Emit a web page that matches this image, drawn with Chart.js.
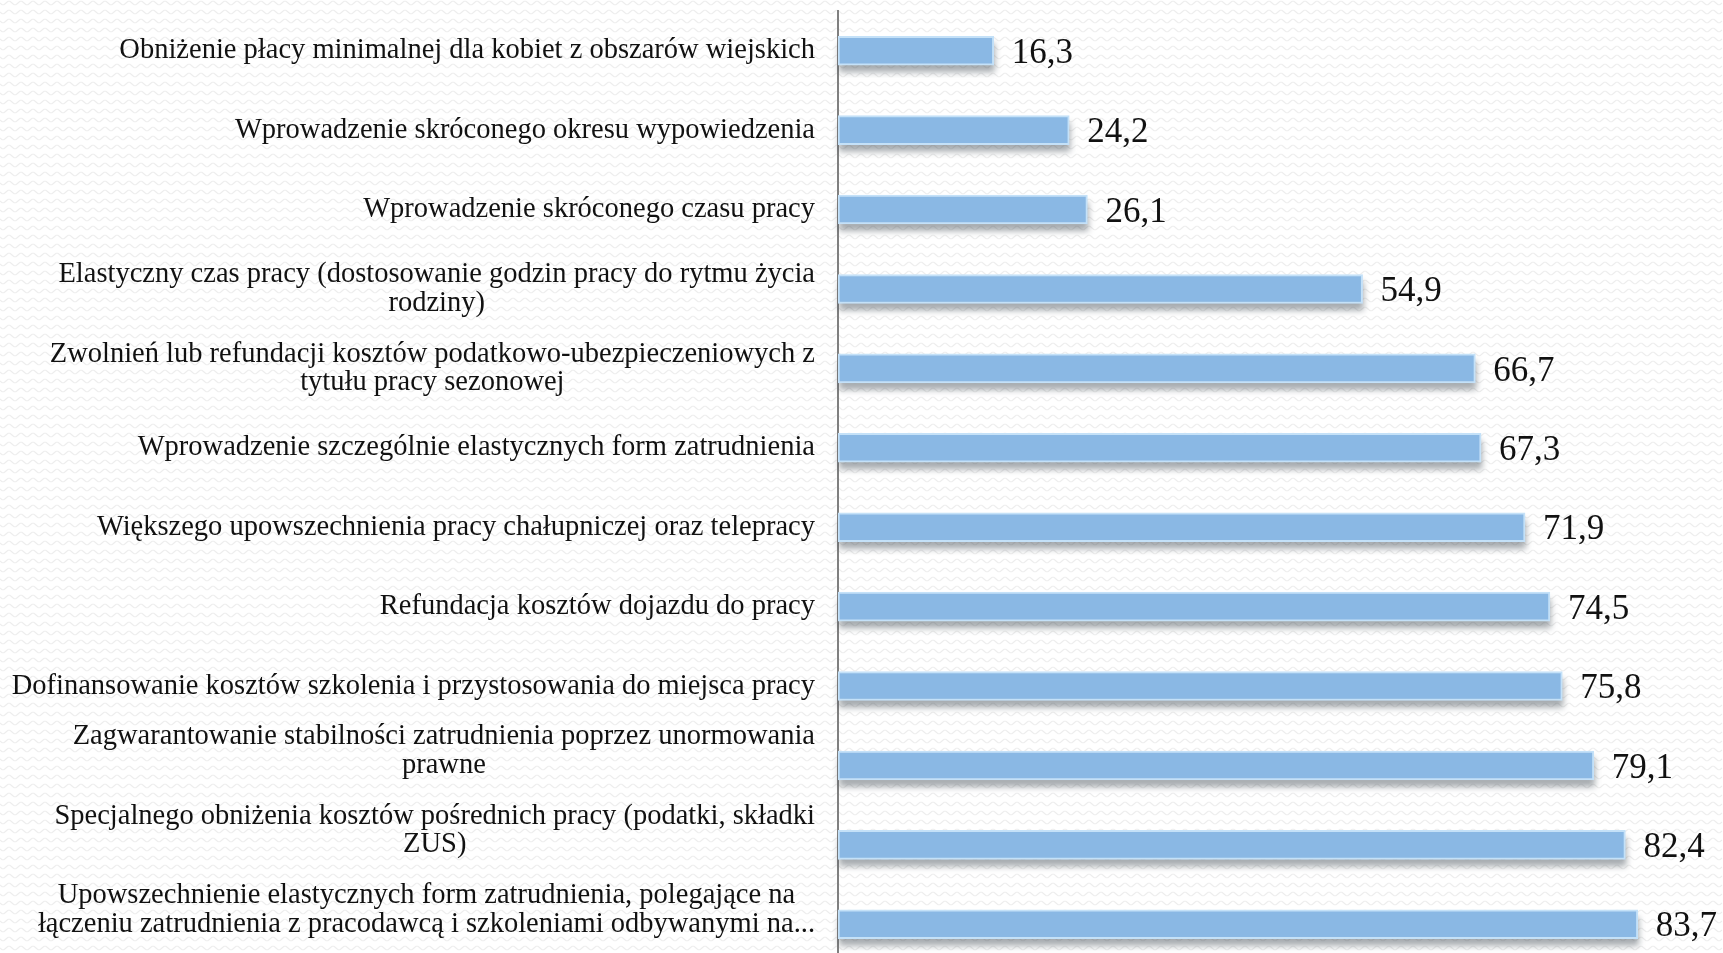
<!DOCTYPE html>
<html>
<head>
<meta charset="utf-8">
<script src="https://cdn.jsdelivr.net/npm/chart.js@4.4.1/dist/chart.umd.min.js"></script>
<style>
html, body { margin: 0; padding: 0; overflow: hidden; background: #fff; }
#wrap { width: 1723px; height: 964px; }
</style>
</head>
<body>
<div id="wrap"><canvas id="myChart"></canvas></div>
<script>
// categories (each one is a list of wrapped lines)
const categories = [
    ['Obniżenie płacy minimalnej dla kobiet z obszarów wiejskich'],
    ['Wprowadzenie skróconego okresu wypowiedzenia'],
    ['Wprowadzenie skróconego czasu pracy'],
    ['Elastyczny czas pracy (dostosowanie godzin pracy do rytmu życia', 'rodziny)'],
    ['Zwolnień lub refundacji kosztów podatkowo-ubezpieczeniowych z', 'tytułu pracy sezonowej'],
    ['Wprowadzenie szczególnie elastycznych form zatrudnienia'],
    ['Większego upowszechnienia pracy chałupniczej oraz telepracy'],
    ['Refundacja kosztów dojazdu do pracy'],
    ['Dofinansowanie kosztów szkolenia i przystosowania do miejsca pracy'],
    ['Zagwarantowanie stabilności zatrudnienia poprzez unormowania', 'prawne', ''],
    ['Specjalnego obniżenia kosztów pośrednich pracy (podatki, składki', 'ZUS)', ''],
    ['Upowszechnienie elastycznych form zatrudnienia, polegające na', 'łączeniu zatrudnienia z pracodawcą i szkoleniami odbywanymi na...', '']
];
const values = [16.3, 24.2, 26.1, 54.9, 66.7, 67.3, 71.9, 74.5, 75.8, 79.1, 82.4, 83.7];
const xMin = 0;
const xMax = 90;

const fmt = v => v.toFixed(1).replace('.', ',');

// faint wavy paper background
const backgroundPlugin = {
    id: 'paper',
    beforeDraw(chart) {
        const ctx = chart.ctx;
        ctx.save();
        ctx.fillStyle = '#ffffff';
        ctx.fillRect(0, 0, chart.width, chart.height);
        ctx.strokeStyle = 'rgba(0,0,0,0.07)';
        ctx.lineWidth = 1.2;
        for (let y = 3; y < chart.height; y += 9) {
            ctx.beginPath();
            for (let x = 0; x <= chart.width; x += 2) {
                const yy = y + 2 * Math.sin(x / 12 * Math.PI * 2);
                if (x === 0) ctx.moveTo(x, yy); else ctx.lineTo(x, yy);
            }
            ctx.stroke();
        }
        ctx.restore();
    }
};

// soft shadow under each bar
const shadowPlugin = {
    id: 'barShadow',
    beforeDatasetsDraw(chart) {
        const ctx = chart.ctx;
        ctx.save();
        ctx.filter = 'blur(3px)';
        ctx.fillStyle = 'rgba(60,70,80,0.45)';
        chart.getDatasetMeta(0).data.forEach(b => {
            ctx.fillRect(b.base + 1, b.y - b.height / 2 + 7, b.x - b.base, b.height);
        });
        ctx.restore();
    }
};

// value labels right of bars
const valuePlugin = {
    id: 'values',
    afterDatasetsDraw(chart) {
        const ctx = chart.ctx;
        ctx.save();
        ctx.font = '35px "Liberation Serif"';
        ctx.fillStyle = '#111';
        ctx.textAlign = 'left';
        ctx.textBaseline = 'middle';
        chart.getDatasetMeta(0).data.forEach((b, i) => {
            ctx.fillText(fmt(values[i]), b.x + 18, b.y + 3);
        });
        ctx.restore();
    }
};

// category labels: block right-aligned, lines centred within block
const labelPlugin = {
    id: 'catLabels',
    afterDraw(chart) {
        const ctx = chart.ctx;
        const yScale = chart.scales.y;
        const right = yScale.right - 23;
        const lineH = 28.6;
        ctx.save();
        ctx.font = '28.5px "Liberation Serif"';
        ctx.fillStyle = '#111';
        ctx.textAlign = 'center';
        ctx.textBaseline = 'middle';
        categories.forEach((lines, i) => {
            const w = Math.max(...lines.map(l => ctx.measureText(l).width));
            const cx = right - w / 2;
            const cy = yScale.getPixelForValue(i);
            const top = cy - (lines.length - 1) * lineH / 2;
            lines.forEach((l, k) => ctx.fillText(l, cx, top + k * lineH));
        });
        ctx.restore();
    }
};

const ctx = document.getElementById('myChart');
const myChart = new Chart(ctx, {
    type: 'bar',
    data: {
        labels: categories,
        datasets: [{
            data: values,
            backgroundColor: '#8ab8e4',
            borderColor: '#c4e1f8',
            borderWidth: 2,
            borderSkipped: false,
            barThickness: 29
        }]
    },
    options: {
        indexAxis: 'y',
        responsive: true,
        maintainAspectRatio: false,
        animation: false,
        layout: { padding: { top: 11, right: 25, bottom: 0, left: 0 } },
        plugins: {
            legend: { display: false },
            tooltip: { enabled: false }
        },
        scales: {
            x: { min: xMin, max: xMax, display: false },
            y: {
                ticks: { display: false },
                grid: { display: false },
                border: { display: true, color: '#808080', width: 2 },
                afterFit(scale) { scale.width = 838; }
            }
        }
    },
    plugins: [backgroundPlugin, shadowPlugin, valuePlugin, labelPlugin]
});
</script>
</body>
</html>
